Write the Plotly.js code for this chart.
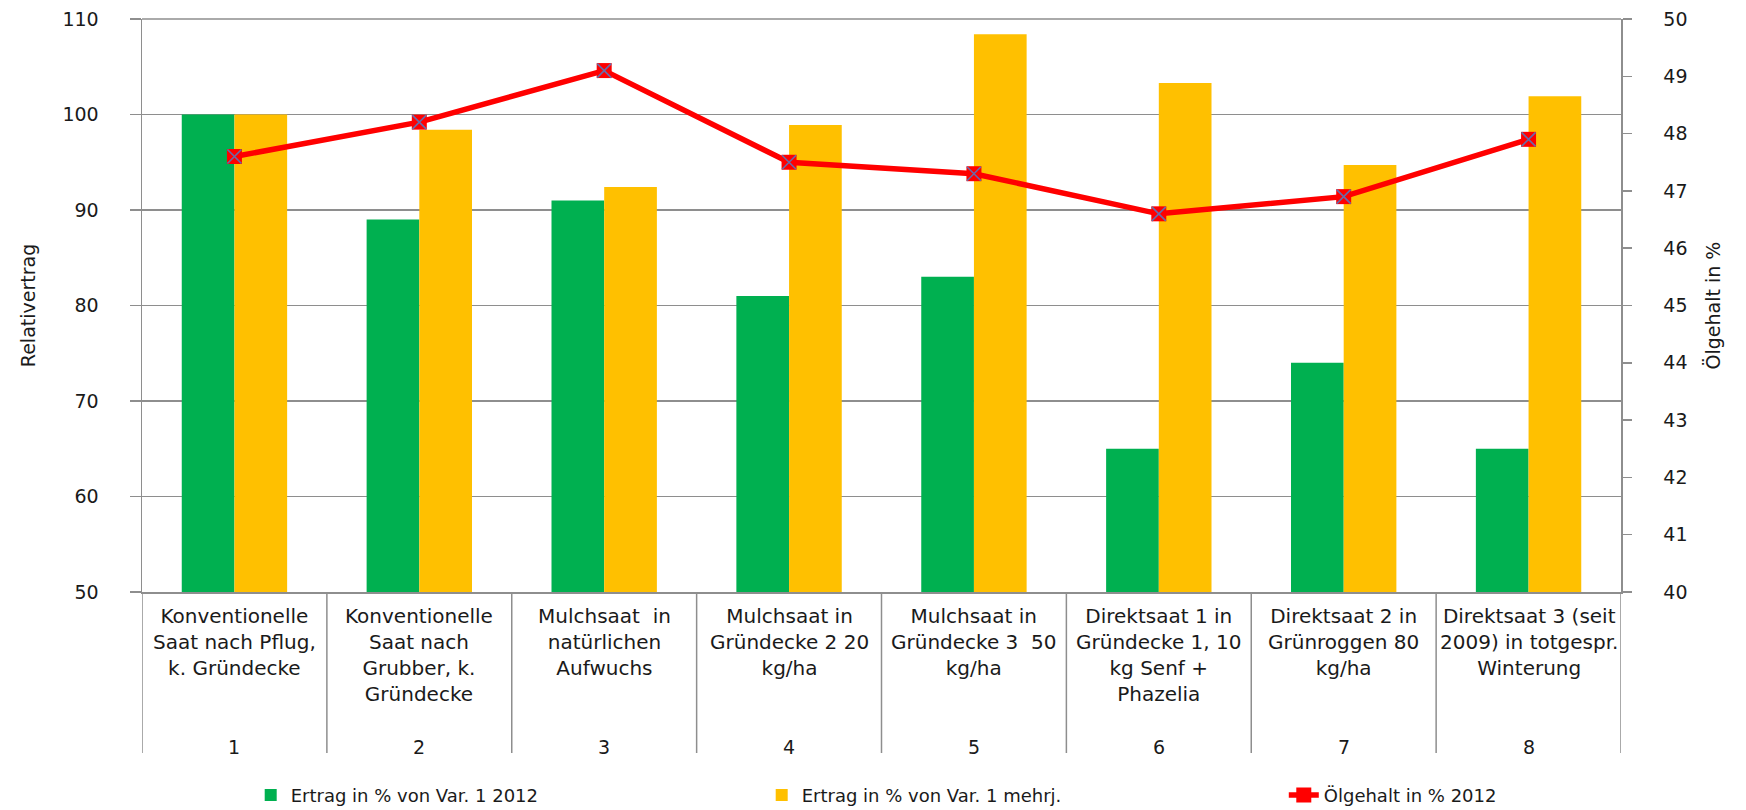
<!DOCTYPE html>
<html>
<head>
<meta charset="utf-8">
<script src="https://cdn.plot.ly/plotly-3.0.1.min.js"></script>
<style>html,body{margin:0;padding:0;background:#fff;}#chart{width:1746px;height:810px;}</style>
</head>
<body>
<div id="chart"></div>
<script>
const varNumbers = [1, 2, 3, 4, 5, 6, 7, 8];
const categoryLabels = [
  "Konventionelle<br>Saat nach Pflug,<br>k. Gründecke",
  "Konventionelle<br>Saat nach<br>Grubber, k.<br>Gründecke",
  "Mulchsaat  in<br>natürlichen<br>Aufwuchs",
  "Mulchsaat in<br>Gründecke 2 20<br>kg/ha",
  "Mulchsaat in<br>Gründecke 3  50<br>kg/ha",
  "Direktsaat 1 in<br>Gründecke 1, 10<br>kg Senf +<br>Phazelia",
  "Direktsaat 2 in<br>Grünroggen 80<br>kg/ha",
  "Direktsaat 3 (seit<br>2009) in totgespr.<br>Winterung"
];
const ertrag2012 = [100, 89, 91, 81, 83, 65, 74, 65];
const ertragMehrj = [100, 98.4, 92.4, 98.9, 108.4, 103.3, 94.7, 101.9];
const oelgehalt2012 = [47.6, 48.2, 49.1, 47.5, 47.3, 46.6, 46.9, 47.9];
const seriesNames = ["Ertrag in % von Var. 1 2012", "Ertrag in % von Var. 1 mehrj.", "Ölgehalt in % 2012"];
const yTitle = "Relativertrag";
const y2Title = "Ölgehalt in %";

const FONT = "DejaVu Sans, Verdana, sans-serif";
const TXT = "#1a1a1a";
const GRID = "#8e8e8e";

const traces = [
  {type: "bar", x: varNumbers, y: ertrag2012, name: seriesNames[0],
   marker: {color: "#00B050"}, hoverinfo: "y", legend: "legend"},
  {type: "bar", x: varNumbers, y: ertragMehrj, name: seriesNames[1],
   marker: {color: "#FFC000"}, hoverinfo: "y", legend: "legend"},
  {type: "scatter", mode: "lines+markers", x: varNumbers, y: oelgehalt2012, yaxis: "y2",
   name: seriesNames[2], line: {color: "#FF0000", width: 5.5}, legend: "legend2",
   marker: {symbol: "square", size: 15, color: "#FF0000"}},
  {type: "scatter", mode: "markers", x: varNumbers, y: oelgehalt2012, yaxis: "y2",
   showlegend: false, hoverinfo: "skip",
   marker: {symbol: "x-thin-open", size: 14, color: "#6a6aa8", line: {width: 1.6, color: "#6a6aa8"}}}
];

const annotations = [];
const shapes = [];
for (let i = 0; i < varNumbers.length; i++) {
  annotations.push({x: varNumbers[i], xref: "x", y: -0.018, yref: "paper", text: categoryLabels[i],
    showarrow: false, xanchor: "center", yanchor: "top", align: "center",
    font: {family: FONT, size: 20, color: TXT}});
  annotations.push({x: varNumbers[i], xref: "x", y: -0.271, yref: "paper", text: String(varNumbers[i]),
    showarrow: false, xanchor: "center", yanchor: "middle",
    font: {family: FONT, size: 19, color: TXT}});
}
for (let i = 0; i <= varNumbers.length; i++) {
  shapes.push({type: "line", xref: "x", yref: "paper", x0: i + 0.5, x1: i + 0.5, y0: 0, y1: -0.281,
    line: {color: GRID, width: 1.5}});
}
shapes.push({type: "line", xref: "paper", yref: "paper", x0: 0, x1: 1, y0: 1, y1: 1, line: {color: GRID, width: 1.5}});

const legFont = {family: FONT, size: 18, color: TXT};
const layout = {
  width: 1746, height: 810,
  margin: {l: 142, r: 125, t: 19, b: 218, autoexpand: false},
  paper_bgcolor: "#fff", plot_bgcolor: "#fff",
  barmode: "group", bargap: 0.43, bargroupgap: 0,
  showlegend: true,
  legend: {orientation: "h", x: 0.0735, xanchor: "left", y: -0.355, yanchor: "middle",
    font: legFont, entrywidth: 466, entrywidthmode: "pixels", traceorder: "normal",
    bgcolor: "rgba(0,0,0,0)"},
  legend2: {orientation: "h", x: 0.772, xanchor: "left", y: -0.355, yanchor: "middle",
    font: legFont, bgcolor: "rgba(0,0,0,0)"},
  xaxis: {range: [0.5, 8.5], showticklabels: false, ticks: "", showgrid: false, zeroline: false,
    showline: true, linecolor: GRID, linewidth: 1.5, fixedrange: true},
  yaxis: {range: [50, 110], dtick: 10, tick0: 50, showgrid: true, gridcolor: GRID, gridwidth: 1.5,
    zeroline: false, showline: true, linecolor: GRID, linewidth: 1.5,
    ticks: "outside", ticklen: 11, tickwidth: 1.5, tickcolor: GRID, ticklabelstandoff: 27,
    tickfont: {family: FONT, size: 19, color: TXT},
    title: {text: yTitle, font: {family: FONT, size: 19, color: TXT}, standoff: 22}},
  yaxis2: {range: [40, 50], dtick: 1, tick0: 40, overlaying: "y", side: "right", showgrid: false,
    zeroline: false, showline: true, linecolor: GRID, linewidth: 1.5,
    ticks: "outside", ticklen: 9, tickwidth: 1.5, tickcolor: GRID, ticklabelstandoff: 28,
    tickfont: {family: FONT, size: 19, color: TXT},
    title: {text: y2Title, font: {family: FONT, size: 19, color: TXT}, standoff: 20}},
  annotations: annotations,
  shapes: shapes
};

Plotly.newPlot("chart", traces, layout, {displayModeBar: false, staticPlot: true});
</script>
</body>
</html>
